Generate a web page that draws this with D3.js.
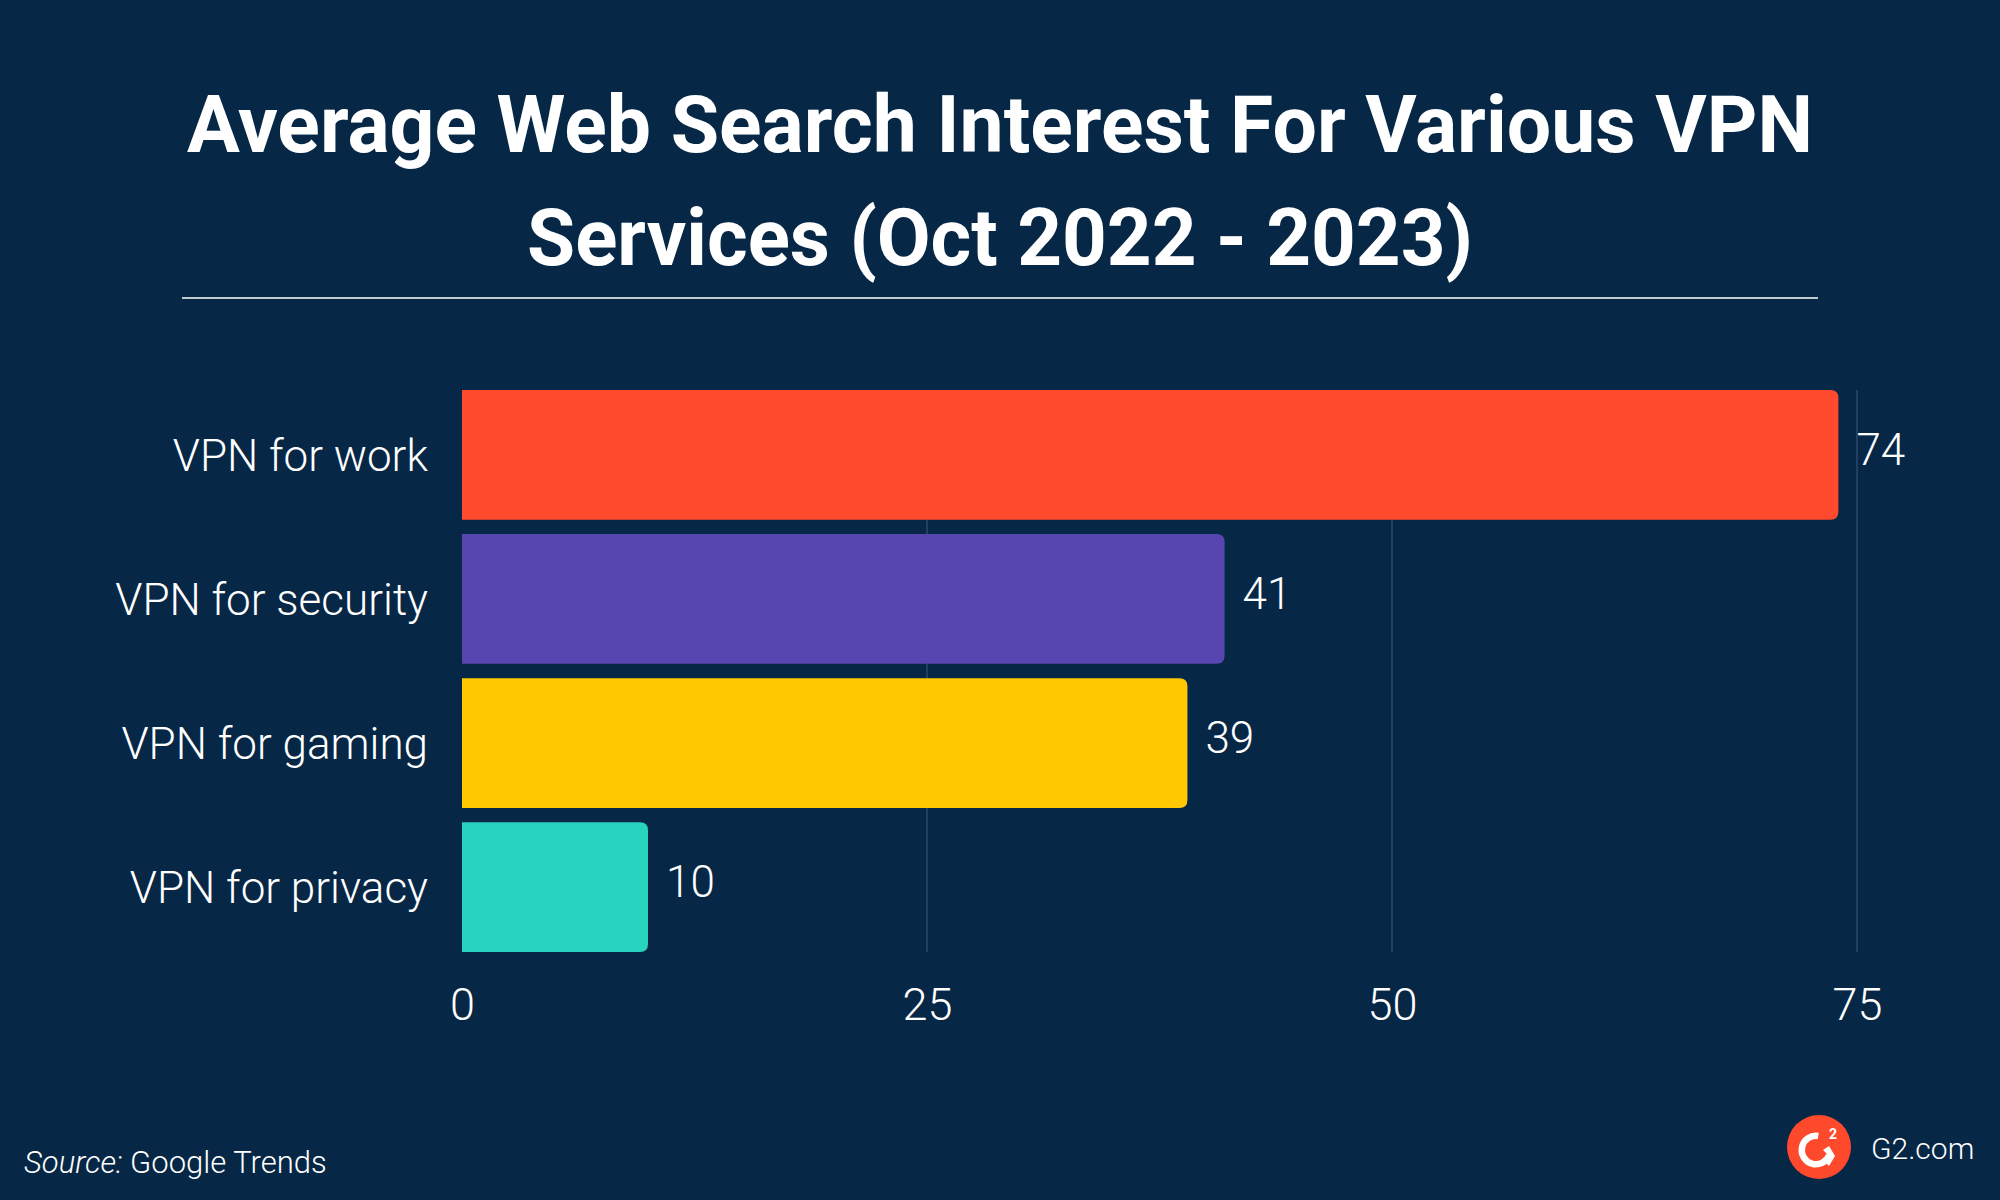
<!DOCTYPE html>
<html>
<head>
<meta charset="utf-8">
<script src="https://cdn.jsdelivr.net/npm/d3@7"></script>
<style>
  html, body { margin: 0; padding: 0; background: #062746; }
  svg { display: block; }
</style>
</head>
<body>
<svg id="chart" width="2000" height="1200"></svg>
<script>
var categories = ["VPN for work", "VPN for security", "VPN for gaming", "VPN for privacy"];
var values = [74, 41, 39, 10];
var barColors = ["#ff4a2e", "#5846b0", "#ffc800", "#28d3bf"];
var tickValues = [0, 25, 50, 75];
var titleLines = ["Average Web Search Interest For Various VPN", "Services (Oct 2022 - 2023)"];

var svg = d3.select("#chart");
var W = 2000, H = 1200;

svg.append("rect")
    .attr("width", W)
    .attr("height", H)
    .attr("fill", "#062746");

// title, squeezed sideways to look like the condensed original face
var titleWidths = [1626, 946];
var titleBase = [152, 265];
titleLines.forEach((t, i) => {
  var g = svg.append("g");
  var txt = g.append("text")
      .attr("x", 0)
      .attr("y", 0)
      .attr("text-anchor", "middle")
      .attr("font-family", "Roboto")
      .attr("font-weight", 700)
      .attr("font-size", 80)
      .attr("fill", "#ffffff")
      .text(t);
  var sx = titleWidths[i] / txt.node().getComputedTextLength();
  g.attr("transform", "translate(1000," + titleBase[i] + ") scale(" + sx + ",1)");
});

svg.append("line")
    .attr("x1", 182).attr("x2", 1818)
    .attr("y1", 298).attr("y2", 298)
    .attr("stroke", "#ffffff")
    .attr("stroke-width", 1.5);

// scales
var x = d3.scaleLinear().domain([0, 75]).range([462, 1857]);
var y = d3.scaleBand()
    .domain(categories)
    .range([390, 952])
    .paddingInner(0.1)
    .paddingOuter(0);

// grid
svg.append("g")
  .selectAll("line")
  .data(tickValues.filter(d => d > 0))
  .join("line")
    .attr("x1", d => x(d)).attr("x2", d => x(d))
    .attr("y1", 390).attr("y2", 952)
    .attr("stroke", "#2b4868")
    .attr("stroke-width", 1.5);

function roundedRight(x0, y0, w, h, r) {
  return "M" + x0 + "," + y0 +
    "H" + (x0 + w - r) +
    "Q" + (x0 + w) + "," + y0 + " " + (x0 + w) + "," + (y0 + r) +
    "V" + (y0 + h - r) +
    "Q" + (x0 + w) + "," + (y0 + h) + " " + (x0 + w - r) + "," + (y0 + h) +
    "H" + x0 + "Z";
}

var rows = categories.map((c, i) => ({ cat: c, val: values[i], color: barColors[i] }));

svg.append("g")
  .selectAll("path")
  .data(rows)
  .join("path")
    .attr("d", d => roundedRight(x(0), y(d.cat), x(d.val) - x(0), y.bandwidth(), 8))
    .attr("fill", d => d.color);

// value labels
svg.append("g")
  .selectAll("text")
  .data(rows)
  .join("text")
    .attr("x", d => x(d.val) + 18)
    .attr("y", d => y(d.cat) + y.bandwidth() / 2 + 10)
    .attr("font-family", "Roboto")
    .attr("font-weight", 300)
    .attr("font-size", 44)
    .attr("fill", "#ffffff")
    .text(d => d.val);

// category labels
svg.append("g")
  .selectAll("text")
  .data(rows)
  .join("text")
    .attr("x", 428)
    .attr("y", d => y(d.cat) + y.bandwidth() / 2 + 16)
    .attr("text-anchor", "end")
    .attr("font-family", "Roboto")
    .attr("font-weight", 300)
    .attr("font-size", 44)
    .attr("fill", "#ffffff")
    .text(d => d.cat);

// x axis
var xAxis = svg.append("g")
    .attr("transform", "translate(0,988)")
    .call(d3.axisBottom(x).tickValues(tickValues).tickSize(0).tickPadding(0));
xAxis.select(".domain").remove();
xAxis.selectAll("text")
    .attr("dy", "0.71em")
    .attr("font-family", "Roboto")
    .attr("font-weight", 300)
    .attr("font-size", 45)
    .attr("fill", "#ffffff");

// source
var src = svg.append("text")
    .attr("x", 24)
    .attr("y", 1173)
    .attr("font-family", "Roboto")
    .attr("font-weight", 300)
    .attr("font-size", 31)
    .attr("fill", "#ffffff");
src.append("tspan").attr("font-style", "italic").text("Source:");
src.append("tspan").text(" Google Trends");

// G2 logo
var logo = svg.append("g").attr("transform", "translate(1819,1147)");
logo.append("circle").attr("r", 32).attr("fill", "#ff492c");
logo.append("path")
    .attr("d", d3.arc()({ innerRadius: 11, outerRadius: 17.5, startAngle: Math.PI * 0.62, endAngle: Math.PI * 2.05 }))
    .attr("transform", "translate(-3,3)")
    .attr("fill", "#ffffff");
logo.append("path")
    .attr("d", "M4,3 L10,-1 L16,9 L10,19 L6,15 L10,9 Z")
    .attr("fill", "#ffffff");
logo.append("text")
    .attr("x", 10).attr("y", -8)
    .attr("font-family", "Roboto")
    .attr("font-weight", 700)
    .attr("font-size", 14)
    .attr("fill", "#ffffff")
    .text("2");

svg.append("text")
    .attr("x", 1871)
    .attr("y", 1159)
    .attr("font-family", "Roboto")
    .attr("font-weight", 300)
    .attr("font-size", 30)
    .attr("fill", "#ffffff")
    .text("G2.com");
</script>
</body>
</html>
